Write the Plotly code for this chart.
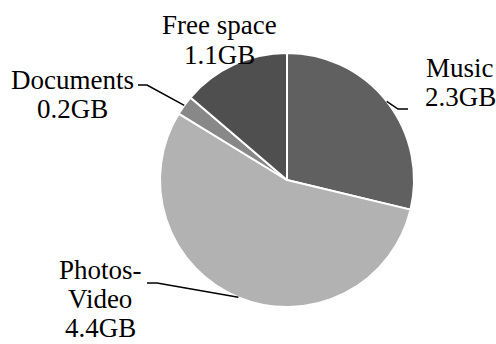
import math
import plotly.graph_objects as go

# ---- data ----
categories = ["Music", "Photos-Video", "Documents", "Free space"]
values = [2.3, 4.4, 0.2, 1.1]
value_labels = ["2.3GB", "4.4GB", "0.2GB", "1.1GB"]
label_lines = [["Music"], ["Photos-", "Video"], ["Documents"], ["Free space"]]

# ---- styling / layout ----
W, H = 496, 344
colors = ["#606060", "#b2b2b2", "#888888", "#4f4f4f"]
CX, CY, R = 287, 180, 127  # pie centre / radius in pixels

# label text centre x, first line y; leader elbow & end (pixels)
label_pos = [
    dict(x=460, y=68, gap=29, elbow=(398, 109), end=(408, 109)),
    dict(x=100, y=270, gap=29, elbow=(157, 283), end=(147, 283)),
    dict(x=72, y=80, gap=29, elbow=(147, 85), end=(138, 85)),
    dict(x=219, y=25, gap=30, elbow=None, end=None),
]
FONT = dict(family="Liberation Serif, Times New Roman, serif", size=27, color="#000000")


def px(x):
    return x / W


def py(y):
    return 1 - y / H


fig = go.Figure(
    go.Pie(
        labels=categories,
        values=values,
        sort=False,
        direction="clockwise",
        rotation=0,
        textinfo="none",
        hoverinfo="label+value",
        marker=dict(colors=colors, line=dict(color="#ffffff", width=2)),
        domain=dict(x=[px(CX - R), px(CX + R)], y=[py(CY + R), py(CY - R)]),
        showlegend=False,
    )
)

annotations = []
shapes = []
total = sum(values)
cum = 0.0
for i, v in enumerate(values):
    mid = (cum + v / 2) / total * 2 * math.pi
    cum += v
    ax_ = CX + R * math.sin(mid)
    ay_ = CY - R * math.cos(mid)
    pos = label_pos[i]
    lines = label_lines[i] + [value_labels[i]]
    for j, t in enumerate(lines):
        annotations.append(
            dict(
                x=px(pos["x"]), y=py(pos["y"] + j * pos["gap"]),
                xref="paper", yref="paper", text=t, showarrow=False,
                xanchor="center", yanchor="middle", font=FONT,
            )
        )
    if pos["elbow"] is not None:
        ex, ey = pos["elbow"]
        nx, ny = pos["end"]
        path = f"M {px(ax_)} {py(ay_)} L {px(ex)} {py(ey)} L {px(nx)} {py(ny)}"
        shapes.append(
            dict(type="path", xref="paper", yref="paper", path=path,
                 line=dict(color="#000000", width=1.5))
        )

fig.update_layout(
    width=W, height=H,
    margin=dict(l=0, r=0, t=0, b=0),
    paper_bgcolor="#ffffff",
    plot_bgcolor="#ffffff",
    annotations=annotations,
    shapes=shapes,
)

fig.write_html("out.html")
